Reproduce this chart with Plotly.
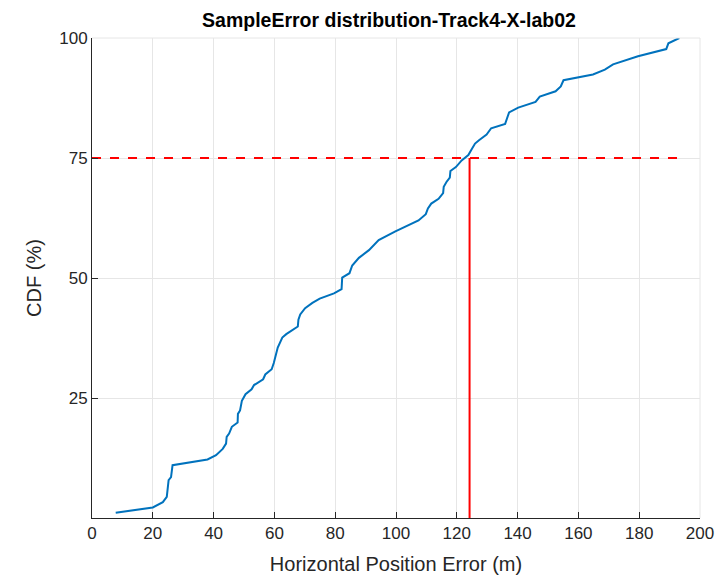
import plotly.graph_objects as go

# CDF curve
err = [7.8, 20.0, 23.3, 24.6, 25.2, 26.0, 26.5, 38.0, 40.8, 43.0, 44.1, 44.3, 45.1, 46.0,
       47.9, 48.0, 48.7, 49.3, 50.5, 52.5, 53.3, 56.3, 57.0, 59.1, 59.8, 60.2, 61.1, 62.6,
       63.9, 67.7, 67.9, 68.5, 70.1, 72.5, 74.9, 79.6, 82.1, 82.3, 84.7, 85.6, 87.8, 91.1,
       94.3, 99.8, 104.2, 107.4, 109.8, 110.5, 111.6, 114.0, 115.5, 115.7, 116.6, 117.7,
       117.9, 119.7, 121.6, 123.8, 124.7, 126.0, 127.3, 129.8, 131.3, 135.9, 137.2, 140.2,
       145.9, 147.3, 152.5, 154.2, 155.1, 164.8, 168.7, 171.4, 179.6, 188.9, 189.6, 193.2]
cdf = [1.1, 2.2, 3.3, 4.4, 7.9, 8.5, 11.0, 12.2, 13.1, 14.4, 15.5, 16.9, 17.6, 19.0,
       19.9, 21.7, 22.4, 24.4, 25.8, 26.8, 27.7, 28.9, 29.9, 31.0, 32.3, 33.5, 35.5, 37.6,
       38.3, 39.9, 41.3, 42.4, 43.7, 44.8, 45.7, 46.8, 47.7, 50.1, 51.0, 52.6, 54.2, 55.8,
       57.9, 59.7, 61.0, 62.0, 63.3, 64.5, 65.5, 66.5, 67.7, 69.0, 70.0, 70.9,
       72.3, 73.1, 74.5, 75.6, 76.6, 78.0, 78.7, 79.9, 81.2, 82.1, 84.5, 85.5,
       86.7, 87.8, 88.9, 89.9, 91.2, 92.4, 93.4, 94.5, 96.2, 97.7, 98.9, 100.0]

p75_level = 75
p75_error = 124.2

x_ticks = [0, 20, 40, 60, 80, 100, 120, 140, 160, 180, 200]
y_ticks = [25, 50, 75, 100]

title_text = "SampleError distribution-Track4-X-lab02"
x_label = "Horizontal Position Error (m)"
y_label = "CDF (%)"

fig = go.Figure()
fig.add_trace(go.Scatter(x=err, y=cdf, mode="lines",
                         line=dict(color="#0072BD", width=2), showlegend=False))
fig.add_trace(go.Scatter(x=[0, max(err)], y=[p75_level, p75_level], mode="lines",
                         line=dict(color="#FF0000", width=2, dash="dash"), showlegend=False))
fig.add_trace(go.Scatter(x=[p75_error, p75_error], y=[0, p75_level], mode="lines",
                         line=dict(color="#FF0000", width=2), showlegend=False))

font_fam = "Liberation Sans, Arial, sans-serif"
fig.update_layout(
    width=715, height=575,
    margin=dict(l=92, r=15, t=38, b=57, autoexpand=False),
    paper_bgcolor="white", plot_bgcolor="white",
    title=dict(text="<b>" + title_text + "</b>", x=389 / 715, xanchor="center",
               y=1 - 20 / 575, yanchor="middle",
               font=dict(family=font_fam, size=19.5, color="black")),
    font=dict(family=font_fam, size=17, color="#262626"),
)
fig.update_xaxes(range=[0, 200], tickvals=x_ticks, showgrid=True, gridcolor="#E6E6E6",
                 gridwidth=1, showline=True, linecolor="#262626", linewidth=1,
                 ticks="inside", ticklen=6, tickcolor="#262626", zeroline=False,
                 automargin=False, ticklabeloverflow="allow",
                 title=dict(text=x_label, standoff=14, font=dict(size=20, color="#262626")),
                 tickfont=dict(size=17, color="#262626"))
fig.update_yaxes(range=[0, 100], tickvals=y_ticks, showgrid=True, gridcolor="#E6E6E6",
                 gridwidth=1, showline=True, linecolor="#262626", linewidth=1,
                 ticks="inside", ticklen=6, tickcolor="#262626", zeroline=False,
                 automargin=False, ticklabeloverflow="allow",
                 title=dict(text=y_label, standoff=12, font=dict(size=20, color="#262626")),
                 tickfont=dict(size=17, color="#262626"))
# light box on top and right like the reference
fig.add_shape(type="line", xref="paper", yref="paper", x0=0, x1=1, y0=1, y1=1,
              line=dict(color="#E6E6E6", width=1))
fig.add_shape(type="line", xref="paper", yref="paper", x0=1, x1=1, y0=0, y1=1,
              line=dict(color="#E6E6E6", width=1))

fig.write_html("out.html", config={"displayModeBar": False},
               post_script="document.body.style.margin='0px';")
